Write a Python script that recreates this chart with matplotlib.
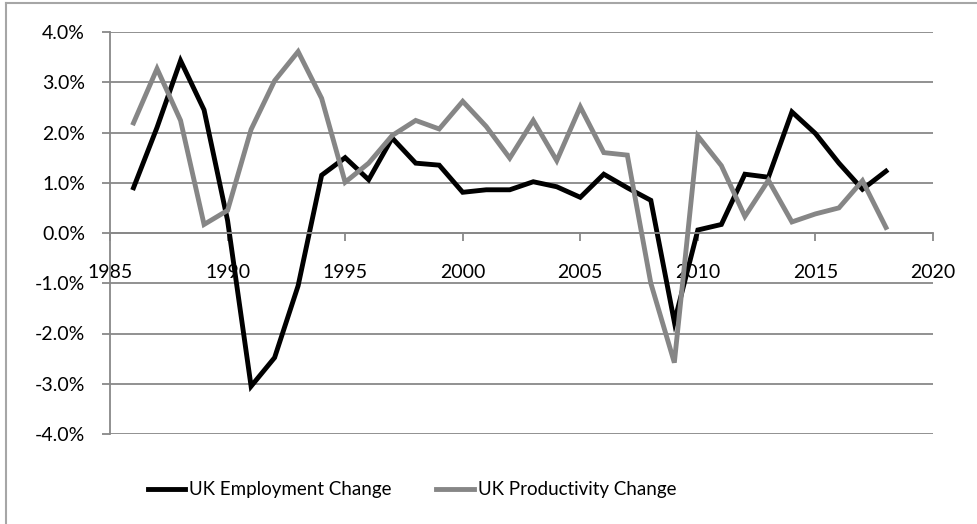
import matplotlib
matplotlib.use("Agg")
import matplotlib.pyplot as plt
from matplotlib.lines import Line2D
from matplotlib.ticker import FuncFormatter, MultipleLocator

years = list(range(1986, 2019))
employment = [0.9, 2.1, 3.43, 2.45, 0.25, -3.05, -2.48, -1.05, 1.15, 1.5, 1.06, 1.89,
              1.39, 1.35, 0.81, 0.86, 0.86, 1.02, 0.92, 0.71, 1.17, 0.9, 0.65, -1.77,
              0.06, 0.17, 1.17, 1.11, 2.41, 1.98, 1.39, 0.87, 1.23]
productivity = [2.19, 3.27, 2.24, 0.17, 0.45, 2.06, 3.03, 3.61, 2.68, 1.01, 1.39, 1.94,
                2.24, 2.07, 2.62, 2.12, 1.49, 2.24, 1.44, 2.51, 1.6, 1.55, -1.0, -2.58,
                1.93, 1.34, 0.33, 1.05, 0.22, 0.38, 0.5, 1.04, 0.11]
series_names = ["UK Employment Change", "UK Productivity Change"]
title = "Figure 2: UK Employment Change vs. UK Productivity Change"

plt.rcParams['font.family'] = ['Lato', 'DejaVu Sans']

W, H = 978, 524
fig = plt.figure(figsize=(W / 100, H / 100), dpi=100)
ax = fig.add_axes([110 / W, 1 - 434 / H, (933 - 110) / W, (434 - 32) / H])

grid_c = '#888888'
ax.plot(years, employment, color='black', lw=3.5, solid_joinstyle='miter', label=series_names[0])
ax.plot(years, productivity, color='#868686', lw=3.5, solid_joinstyle='miter', label=series_names[1])

ax.set_xlim(1985, 2020)
ax.set_ylim(-4, 4)
ax.xaxis.set_major_locator(MultipleLocator(5))
ax.yaxis.set_major_locator(MultipleLocator(1))
ax.yaxis.set_major_formatter(FuncFormatter(lambda v, p: f"{v:.1f}%"))
ax.grid(axis='y', color=grid_c, lw=1.3)
ax.set_axisbelow(True)

for s in ['top', 'right']:
    ax.spines[s].set_visible(False)
ax.spines['bottom'].set_position(('data', 0))
ax.spines['bottom'].set_color(grid_c)
ax.spines['left'].set_color(grid_c)
ax.spines['bottom'].set_linewidth(1.3)
ax.spines['left'].set_linewidth(1.3)
ax.tick_params(axis='y', length=6, width=1.3, color=grid_c, labelsize=14, pad=12)
ax.tick_params(axis='x', length=6, width=1.3, color=grid_c, labelsize=14, pad=16, direction='out')

leg = fig.legend(loc='center', bbox_to_anchor=(412 / W, 1 - 490 / H), ncol=2, frameon=False,
                 fontsize=13.5, handlelength=2.0, handletextpad=0.2, columnspacing=2.4)

# outer chart frame (partially outside the visible area)
fig.add_artist(Line2D([6 / W, 6 / W], [0, 1 - 3 / H], color='#a6a6a6', lw=1.5))
fig.add_artist(Line2D([6 / W, 1], [1 - 3 / H, 1 - 3 / H], color='#a6a6a6', lw=1.5))

# chart title sits mostly above the visible area, as in the reference
fig.text(0.5, 1 + 9 / H, title, ha='center', va='baseline', fontsize=16, fontweight='bold')

fig.savefig('out.png', dpi=100)
